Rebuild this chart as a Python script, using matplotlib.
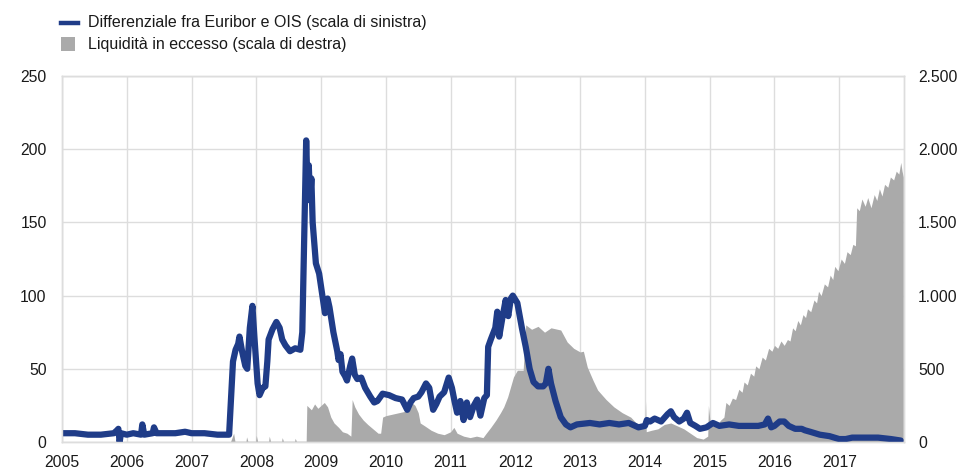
import numpy as np
import matplotlib
matplotlib.use("Agg")
import matplotlib.pyplot as plt
from matplotlib.lines import Line2D
from matplotlib.patches import Rectangle
from matplotlib.ticker import FuncFormatter, MultipleLocator

plt.rcParams['font.family'] = ['Liberation Sans', 'DejaVu Sans']

# Euribor-OIS spread, basis points (left scale)
spread_t = [
    2005.00, 2005.20, 2005.40, 2005.60, 2005.80, 2005.85, 2005.87, 2005.89, 2005.91, 2006.00,
    2006.10, 2006.22, 2006.24, 2006.27, 2006.40, 2006.42, 2006.46, 2006.60, 2006.75, 2006.90,
    2007.00, 2007.20, 2007.40, 2007.58, 2007.61, 2007.64, 2007.68, 2007.72, 2007.74, 2007.78,
    2007.83, 2007.86, 2007.90, 2007.94, 2007.97, 2008.02, 2008.05, 2008.10, 2008.14, 2008.17,
    2008.19, 2008.25, 2008.31, 2008.36, 2008.40, 2008.45, 2008.52, 2008.60, 2008.68, 2008.71,
    2008.74, 2008.77, 2008.79, 2008.81, 2008.83, 2008.85, 2008.87, 2008.92, 2008.97, 2009.02,
    2009.06, 2009.10, 2009.13, 2009.19, 2009.25, 2009.27, 2009.30, 2009.33, 2009.37, 2009.40,
    2009.45, 2009.48, 2009.52, 2009.56, 2009.62, 2009.68, 2009.76, 2009.82, 2009.87, 2009.95,
    2010.05, 2010.15, 2010.25, 2010.33, 2010.38, 2010.43, 2010.50, 2010.55, 2010.62, 2010.67,
    2010.73, 2010.78, 2010.83, 2010.90, 2010.97, 2011.02, 2011.06, 2011.10, 2011.15, 2011.20,
    2011.25, 2011.30, 2011.36, 2011.41, 2011.46, 2011.52, 2011.56, 2011.58, 2011.62, 2011.69,
    2011.72, 2011.75, 2011.80, 2011.85, 2011.89, 2011.93, 2011.96, 2012.03, 2012.10, 2012.16,
    2012.22, 2012.28, 2012.35, 2012.43, 2012.47, 2012.51, 2012.55, 2012.62, 2012.70, 2012.78,
    2012.85, 2012.95, 2013.15, 2013.30, 2013.45, 2013.60, 2013.75, 2013.90, 2014.00, 2014.03,
    2014.08, 2014.15, 2014.25, 2014.35, 2014.40, 2014.45, 2014.53, 2014.60, 2014.65, 2014.70,
    2014.78, 2014.85, 2014.95, 2015.05, 2015.15, 2015.30, 2015.45, 2015.60, 2015.75, 2015.85,
    2015.90, 2015.95, 2016.00, 2016.08, 2016.15, 2016.22, 2016.32, 2016.42, 2016.47, 2016.55,
    2016.70, 2016.85, 2017.00, 2017.10, 2017.20, 2017.40, 2017.60, 2017.80, 2017.95,
]
spread_v = [
    6, 6, 5, 5, 6, 8, 9, 0, 6, 5,
    6, 5, 12, 5, 6, 10, 6, 6, 6, 7,
    6, 6, 5, 5, 30, 55, 63, 67, 72, 62,
    52, 50, 78, 93, 72, 40, 32, 37, 38, 55,
    70, 77, 82, 78, 70, 66, 62, 64, 63, 75,
    140, 206, 175, 189, 165, 180, 150, 122, 115, 100,
    88, 98, 92, 75, 62, 56, 60, 48, 45, 42,
    52, 57, 46, 43, 44, 37, 31, 27, 28, 33,
    32, 30, 29, 22, 27, 30, 31, 34, 40, 37,
    22, 26, 31, 34, 44, 37, 28, 20, 28, 15,
    27, 17, 25, 29, 18, 30, 32, 65, 70, 78,
    89, 72, 85, 97, 86, 98, 100, 95, 78, 65,
    50, 41, 38, 38, 40, 50, 40, 28, 17, 12,
    10, 12, 13, 12, 13, 12, 13, 10, 11, 15,
    14, 16, 14, 19, 21, 17, 14, 16, 20, 13,
    11, 9, 10, 13, 11, 12, 11, 11, 11, 12,
    16, 10, 11, 14, 14, 11, 9, 9, 8, 7,
    5, 4, 2, 2, 3, 3, 3, 2, 1,
]

# Excess liquidity, EUR billions (right scale)
liq_t = [
    2005.00, 2007.60, 2007.65, 2007.67, 2007.84, 2007.85, 2007.87, 2007.99, 2008.00, 2008.02,
    2008.19, 2008.20, 2008.22, 2008.39, 2008.40, 2008.42, 2008.59, 2008.60, 2008.62, 2008.77,
    2008.78, 2008.85, 2008.90, 2008.95, 2009.00, 2009.05, 2009.10, 2009.15, 2009.20, 2009.27,
    2009.33, 2009.40, 2009.46, 2009.48, 2009.52, 2009.58, 2009.65, 2009.72, 2009.80, 2009.88,
    2009.92, 2009.95, 2010.00, 2010.10, 2010.20, 2010.30, 2010.41, 2010.45, 2010.50, 2010.53,
    2010.60, 2010.70, 2010.80, 2010.90, 2011.00, 2011.05, 2011.10, 2011.20, 2011.30, 2011.40,
    2011.50, 2011.55, 2011.62, 2011.70, 2011.77, 2011.82, 2011.88, 2011.97, 2012.03, 2012.12,
    2012.16, 2012.25, 2012.35, 2012.45, 2012.55, 2012.70, 2012.80, 2012.90, 2013.00, 2013.05,
    2013.11, 2013.20, 2013.27, 2013.40, 2013.52, 2013.65, 2013.78, 2013.93, 2014.00, 2014.01,
    2014.02, 2014.10, 2014.20, 2014.30, 2014.40, 2014.50, 2014.60, 2014.70, 2014.80, 2014.90,
    2014.97, 2014.98, 2015.01, 2015.10, 2015.17, 2015.22, 2015.25, 2015.30, 2015.35, 2015.40,
    2015.45, 2015.50, 2015.53, 2015.58, 2015.63, 2015.68, 2015.71, 2015.76, 2015.81, 2015.86,
    2015.91, 2015.96, 2016.00, 2016.05, 2016.10, 2016.15, 2016.20, 2016.24, 2016.28, 2016.32,
    2016.36, 2016.40, 2016.44, 2016.48, 2016.51, 2016.56, 2016.61, 2016.65, 2016.68, 2016.72,
    2016.77, 2016.82, 2016.86, 2016.90, 2016.93, 2016.98, 2017.03, 2017.08, 2017.12, 2017.17,
    2017.21, 2017.25, 2017.27, 2017.31, 2017.35, 2017.40, 2017.44, 2017.49, 2017.54, 2017.58,
    2017.62, 2017.66, 2017.70, 2017.75, 2017.79, 2017.84, 2017.88, 2017.92, 2017.95, 2017.97,
    2017.99,
]
liq_v = [
    0, 0, 60, 5, 5, 35, 5, 5, 45, 5,
    5, 40, 5, 5, 30, 5, 5, 25, 5, 5,
    250, 220, 260, 230, 250, 270, 240, 170, 130, 100,
    70, 60, 40, 290, 240, 190, 150, 120, 90, 60,
    60, 170, 180, 190, 200, 210, 266, 250, 200, 130,
    110, 80, 60, 50, 70, 100, 60, 40, 30, 40,
    30, 60, 100, 150, 200, 240, 307, 444, 490, 490,
    800, 770, 790, 750, 780, 765, 683, 640, 615, 620,
    512, 420, 355, 290, 240, 200, 170, 100, 90, 280,
    70, 80, 90, 120, 130, 110, 90, 60, 30, 20,
    40, 250, 120, 110, 150, 170, 270, 250, 300, 290,
    360, 340, 410, 390, 470, 450, 520, 500, 580, 560,
    640, 620, 660, 640, 690, 660, 700, 690, 780, 760,
    830, 800, 870, 850, 910, 890, 970, 950, 1030, 1000,
    1080, 1060, 1140, 1110, 1200, 1170, 1250, 1220, 1300, 1280,
    1350, 1340, 1600, 1580, 1660, 1610, 1670, 1600, 1690, 1650,
    1730, 1680, 1760, 1740, 1810, 1790, 1850, 1830, 1910, 1850,
    1810,
]

years = list(range(2005, 2018))

blue = '#1f3c88'
grey = '#aaaaaa'
gridc = '#dddddd'
W, H = 960, 471

fig = plt.figure(figsize=(W / 100, H / 100), dpi=100)
ax = fig.add_axes([62/W, 1 - 442/H, (904 - 62)/W, (442 - 76)/H])

# grey area on the right scale, kept in the lower axes so the grid sits behind it
ax.fill_between(liq_t, 0, liq_v, color=grey, lw=0, zorder=2)
ax.set_ylim(0, 2500)
ax.set_xlim(2005, 2018)
ax.yaxis.set_major_locator(MultipleLocator(500))
ax.yaxis.set_major_formatter(FuncFormatter(lambda v, p: f"{int(v):,}".replace(",", ".")))
ax.set_axisbelow(True)
ax.grid(True, color=gridc, lw=1)
ax.set_xticks(years)
ax.set_xticklabels([str(y) for y in years])

ax2 = ax.twinx()
ax2.plot(spread_t, spread_v, color=blue, lw=4.5, solid_capstyle='round', solid_joinstyle='round')
ax2.set_ylim(0, 250)
ax2.yaxis.set_major_locator(MultipleLocator(50))

ax.yaxis.tick_right()
ax2.yaxis.tick_left()

for a in (ax, ax2):
    for s in a.spines.values():
        s.set_color(gridc)
        s.set_linewidth(1)
    a.tick_params(length=0, labelsize=11.3, colors='#1a1a1a')
ax.tick_params(axis='y', pad=10)
ax2.tick_params(axis='y', pad=11)
ax.tick_params(axis='x', pad=9.5)

# legend drawn by hand in pixel positions
fig.add_artist(Line2D([61/W, 78/W], [1 - 22.5/H, 1 - 22.5/H], color=blue, lw=3.2,
                      transform=fig.transFigure))
fig.add_artist(Rectangle((61/W, 1 - 51/H), 14/W, 14/H, color=grey, lw=0,
                         transform=fig.transFigure))
fig.text(88/W, 1 - 22.5/H, 'Differenziale fra Euribor e OIS (scala di sinistra)',
         fontsize=11.5, va='center', ha='left', color='#1a1a1a')
fig.text(88/W, 1 - 44/H, 'Liquidità in eccesso (scala di destra)',
         fontsize=11.5, va='center', ha='left', color='#1a1a1a')

plt.savefig('out.png', dpi=100)
